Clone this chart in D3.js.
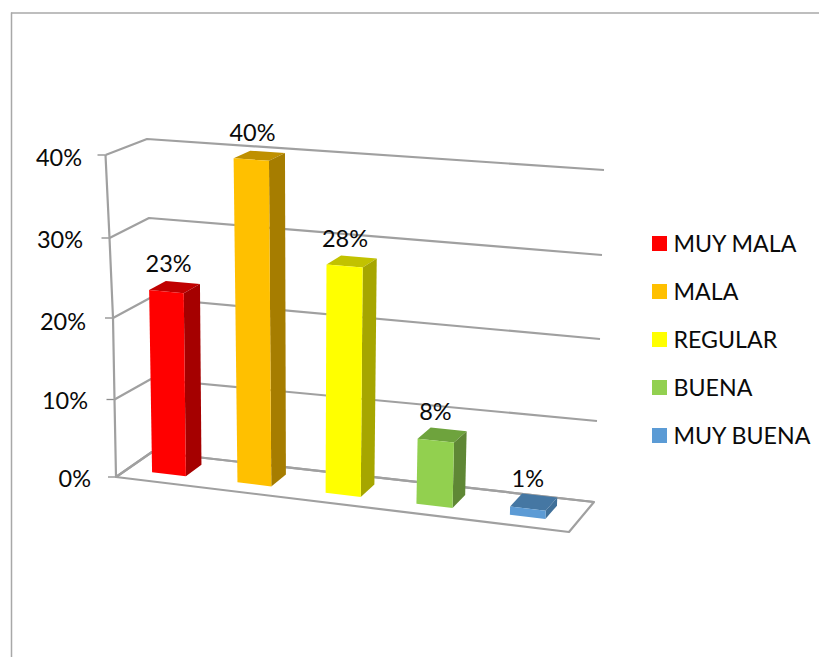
<!DOCTYPE html>
<html>
<head>
<meta charset="utf-8">
<script src="https://cdn.jsdelivr.net/npm/d3@7/dist/d3.min.js"></script>
<style>
html,body{margin:0;padding:0;background:#fff}
svg{display:block}
text{font-family:Lato,"Open Sans",sans-serif;fill:#0a0a0a}
</style>
</head>
<body>
<div id="chart"></div>
<script>
const categories = ["MUY MALA", "MALA", "REGULAR", "BUENA", "MUY BUENA"];
const values = [0.23, 0.40, 0.28, 0.08, 0.01];
const valueLabels = ["23%", "40%", "28%", "8%", "1%"];
const yTicks = [0, 0.1, 0.2, 0.3, 0.4];
const yTickLabels = ["0%", "10%", "20%", "30%", "40%"];
const faceColors = ["#FF0000", "#FFC000", "#FFFF00", "#92D050", "#5B9BD5"];
const sideColors = ["#A50000", "#A67D00", "#A6A600", "#5F8734", "#3F6F99"];
const topColors = ["#C00000", "#BF9000", "#C2C200", "#6EA33C", "#4577A3"];

const W = 819, H = 657;
const svg = d3.select("#chart").append("svg").attr("width", W).attr("height", H);

// Corner scales of the oblique 3D box: value -> screen coordinate
const corner = (xs, ys) => ({
  x: d3.scaleLinear().domain(yTicks).range(xs),
  y: d3.scaleLinear().domain(yTicks).range(ys)
});
const frontLeft  = corner([116, 114.5, 113, 109.5, 105.5], [477, 399.5, 318, 238, 155]);
const backLeft   = corner([152, 151, 150, 149, 147],       [452, 379, 298, 218, 139]);
const backRight  = corner([594, 597, 600, 602, 604],       [502, 421, 339, 255, 170]);
const frontRight = corner([569, 572, 575, 578, 581],       [532, 447, 361, 275, 190]);
// Anchor of the value-axis labels
const tickLabel  = corner([91, 88, 86, 83, 82],            [487, 409, 330, 248, 166]);

// Category band along the width of the box, lightly warped for perspective
const band = d3.scaleBand().domain(categories).range([0, 1])
  .paddingInner(0.61).paddingOuter(0.305);
const warp = d3.scaleLinear()
  .domain([0, 0.1, 0.3, 0.5, 0.7, 0.9, 1])
  .range([-0.005, 0.094, 0.282, 0.48, 0.683, 0.892, 0.99]);

function project(u, v, d) {
  const px = c => c.x(v), py = c => c.y(v);
  const fx = px(frontLeft) + (px(frontRight) - px(frontLeft)) * u;
  const fy = py(frontLeft) + (py(frontRight) - py(frontLeft)) * u;
  const bx = px(backLeft) + (px(backRight) - px(backLeft)) * u;
  const by = py(backLeft) + (py(backRight) - py(backLeft)) * u;
  return [fx + (bx - fx) * d, fy + (by - fy) * d];
}
const poly = pts => d3.line()(pts) + "Z";

// Outer frame (top and left edges only)
const frameColor = "#a8a8a8";
svg.append("line").attr("x1", 11).attr("y1", 13).attr("x2", W).attr("y2", 13)
  .attr("stroke", frameColor).attr("stroke-width", 1.5);
svg.append("line").attr("x1", 11.5).attr("y1", 12.5).attr("x2", 11.5).attr("y2", H)
  .attr("stroke", frameColor).attr("stroke-width", 1.5);

// Soft edges, as in the scaled-up original
const defs = svg.append("defs");
defs.append("filter").attr("id", "soft").attr("x", "-5%").attr("y", "-5%")
  .attr("width", "110%").attr("height", "110%")
  .append("feGaussianBlur").attr("stdDeviation", 0.5);

const plot = svg.append("g").attr("filter", "url(#soft)");
const gridColor = "#a0a0a0";

// Tick marks
plot.selectAll("line.tick").data(yTicks).join("line")
  .attr("class", "tick")
  .attr("x1", v => frontLeft.x(v) - 8).attr("x2", v => frontLeft.x(v))
  .attr("y1", v => frontLeft.y(v)).attr("y2", v => frontLeft.y(v))
  .attr("stroke", "#8c8c8c").attr("stroke-width", 1.3);

// Gridlines: side wall + back wall for each tick
plot.selectAll("path.grid").data(yTicks).join("path")
  .attr("class", "grid")
  .attr("fill", "none").attr("stroke", gridColor).attr("stroke-width", 2.2)
  .attr("stroke-linejoin", "round")
  .attr("d", v => d3.line()([
    [frontLeft.x(v), frontLeft.y(v)],
    [backLeft.x(v), backLeft.y(v)],
    [backRight.x(v), backRight.y(v)]
  ]));

// Vertical value axis
plot.append("path").attr("fill", "none").attr("stroke", gridColor).attr("stroke-width", 2.2)
  .attr("d", d3.line()(yTicks.map(v => [frontLeft.x(v), frontLeft.y(v)])));

// Floor outline
plot.append("path").attr("fill", "none").attr("stroke", gridColor).attr("stroke-width", 2.2)
  .attr("stroke-linejoin", "round")
  .attr("d", poly([
    [frontLeft.x(0), frontLeft.y(0)],
    [backLeft.x(0), backLeft.y(0)],
    [backRight.x(0), backRight.y(0)],
    [frontRight.x(0), frontRight.y(0)]
  ]));

// Bars: each one is three faces of a box
const dFront = 0.31, dBack = 0.76;
const bars = plot.selectAll("g.bar").data(categories).join("g").attr("class", "bar");
const uL = c => warp(band(c)), uR = c => warp(band(c) + band.bandwidth());

bars.append("path").attr("fill", (c, i) => topColors[i])
  .attr("d", (c, i) => poly([
    project(uL(c), values[i], dFront), project(uR(c), values[i], dFront),
    project(uR(c), values[i], dBack), project(uL(c), values[i], dBack)
  ]));
bars.append("path").attr("fill", (c, i) => sideColors[i])
  .attr("d", (c, i) => poly([
    project(uR(c), 0, dFront), project(uR(c), values[i], dFront),
    project(uR(c), values[i], dBack), project(uR(c), 0, dBack)
  ]));
bars.append("path").attr("fill", (c, i) => faceColors[i])
  .attr("d", (c, i) => poly([
    project(uL(c), 0, dFront), project(uR(c), 0, dFront),
    project(uR(c), values[i], dFront), project(uL(c), values[i], dFront)
  ]));

// Tick labels
svg.selectAll("text.ticklabel").data(yTicks).join("text")
  .attr("class", "ticklabel")
  .attr("x", v => tickLabel.x(v))
  .attr("y", v => tickLabel.y(v))
  .attr("text-anchor", "end").attr("font-size", 23.5)
  .text((v, i) => yTickLabels[i]);

// Data labels
const topCentre = (c, i) => project(warp(band(c) + band.bandwidth() / 2), values[i], (dFront + dBack) / 2);
svg.selectAll("text.val").data(categories).join("text")
  .attr("class", "val")
  .attr("x", (c, i) => topCentre(c, i)[0] - 6.5)
  .attr("y", (c, i) => topCentre(c, i)[1] - 15)
  .attr("text-anchor", "middle").attr("font-size", 23.5)
  .text((c, i) => valueLabels[i]);

// Legend
const legendY = d3.scalePoint().domain(categories).range([236, 428]);
const legend = svg.selectAll("g.legend").data(categories).join("g")
  .attr("class", "legend")
  .attr("transform", c => `translate(652,${legendY(c)})`);
legend.append("rect").attr("width", 15).attr("height", 15).attr("fill", (c, i) => faceColors[i]);
legend.append("text").attr("x", 21.5).attr("y", 15.5).attr("font-size", 23.2).text(c => c);
</script>
</body>
</html>
